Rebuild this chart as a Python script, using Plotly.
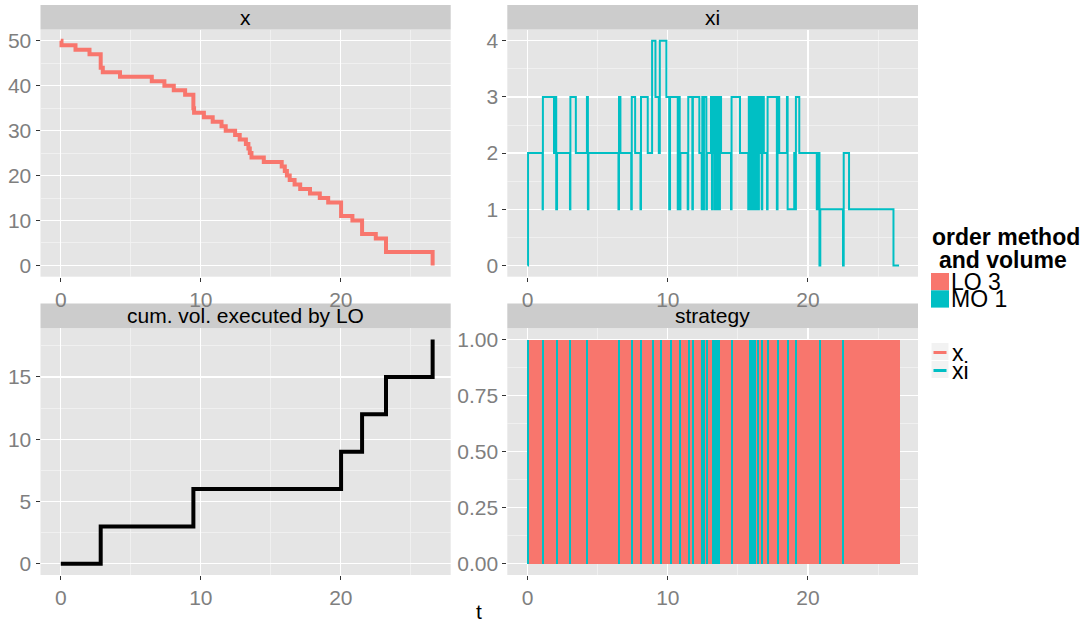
import plotly.graph_objects as go

# ---------------- data ----------------
# remaining inventory x (step function, hv)
x_t = [0.00, 0.05, 1.05, 2.05, 2.85, 3.00, 4.23, 6.50, 7.40, 8.07,
       8.88, 9.47, 9.52, 10.22, 10.85, 11.48, 11.78, 12.45, 12.78, 13.22,
       13.40, 13.50, 13.62, 14.50, 15.78, 16.00, 16.15, 16.35, 16.70, 17.10,
       17.80, 18.50, 19.10, 20.02, 20.83, 21.52, 22.50, 23.23, 26.56]
x_v = [50, 49, 48, 47, 44, 43, 42, 41, 40, 39,
       38, 35, 34, 33, 32, 31, 30, 29, 28, 27,
       26, 25, 24, 23, 22, 21, 20, 19, 18, 17,
       16, 15, 14, 11, 10, 7, 6, 3, 0]

# xi (step function, hv)
xi_t = [0.00, 0.03, 1.07, 1.09, 1.88, 1.96, 2.04, 2.10, 3.02, 3.05,
        3.44, 4.23, 4.30, 4.34, 6.48, 6.52, 6.62, 7.39, 7.43, 7.67,
        8.05, 8.09, 8.57, 8.88, 9.12, 9.36, 9.43, 9.90, 10.10, 10.16,
        10.71, 10.75, 10.85, 10.90, 11.42, 11.46, 11.75, 11.79, 12.25, 12.42,
        12.46, 12.55, 12.58, 12.75, 12.79, 13.08, 13.15, 13.20, 13.30, 13.35,
        13.40, 13.45, 13.50, 13.55, 13.60, 13.65, 13.72, 13.80, 14.51, 14.55,
        15.15, 15.74, 15.78, 15.85, 15.90, 16.00, 16.04, 16.12, 16.16, 16.28,
        16.32, 16.38, 16.45, 16.50, 16.62, 16.70, 16.74, 16.85, 17.08, 17.12,
        17.78, 17.83, 17.95, 18.50, 18.55, 19.02, 19.10, 19.14, 19.38, 20.63,
        20.70, 20.82, 20.88, 22.50, 22.55, 22.93, 26.10, 26.50]
xi_v = [0, 2, 1, 3, 2, 3, 1, 2, 1, 3,
        2, 3, 1, 2, 1, 3, 2, 1, 3, 2,
        1, 3, 2, 4, 3, 2, 4, 3, 1, 3,
        1, 3, 1, 2, 1, 3, 1, 3, 2, 1,
        3, 1, 3, 1, 2, 3, 1, 3, 2, 1,
        3, 1, 3, 1, 3, 1, 3, 2, 1, 3,
        2, 1, 3, 1, 3, 1, 3, 1, 3, 1,
        2, 3, 1, 3, 2, 1, 3, 2, 1, 3,
        1, 3, 2, 3, 1, 2, 1, 3, 2, 1,
        2, 0, 1, 0, 2, 1, 0, 0]

# cumulative volume executed by limit orders
lo_t = [0.00, 2.85, 9.47, 20.02, 21.52, 23.23, 26.56]
lo_cum = [0, 3, 6, 9, 12, 15, 18]

# strategy: LO 3 over whole horizon, MO 1 at these times
strat_start = 0.0
strat_end = 26.56
mo_times = [0.03, 1.09, 2.09, 3.04, 4.23, 6.51, 7.46, 8.08, 8.93, 9.52,
            10.23, 10.87, 11.50, 11.78, 12.45, 12.56, 12.79, 13.21, 13.40, 13.50,
            13.60, 13.68, 14.56, 15.84, 16.02, 16.12, 16.22, 16.41, 16.70, 17.12,
            17.83, 18.55, 19.14, 20.83, 22.50]
strat_level = 1.0

panel_titles = ["x", "xi", "cum. vol. executed by LO", "strategy"]
legend_fill_labels = ["LO 3", "MO 1"]
legend_line_labels = ["x", "xi"]

# ---------------- style ----------------
RED = "#F8766D"
CYAN = "#00BFC4"
FONT = "Liberation Sans, Arial, sans-serif"
W, H = 1089, 624


def fx(p):
    return p / W


def fy(p):
    return 1 - p / H


# panel pixel boxes: (x0, x1, y_top, y_bottom, strip_top)
panels = [
    (40.5, 450.7, 29.5, 276.7, 5.0),
    (507.3, 918.0, 29.5, 276.7, 5.0),
    (40.5, 450.7, 328.3, 575.0, 303.5),
    (507.3, 918.0, 328.3, 575.0, 303.5),
]

fig = go.Figure()

fig.add_trace(go.Scatter(x=x_t, y=x_v, mode="lines",
                         line=dict(color=RED, width=4, shape="hv"),
                         xaxis="x", yaxis="y", showlegend=False, hoverinfo="skip"))
fig.add_trace(go.Scatter(x=xi_t, y=xi_v, mode="lines",
                         line=dict(color=CYAN, width=2, shape="hv"),
                         xaxis="x2", yaxis="y2", showlegend=False, hoverinfo="skip"))
fig.add_trace(go.Scatter(x=lo_t, y=lo_cum, mode="lines",
                         line=dict(color="black", width=4, shape="hv"),
                         xaxis="x3", yaxis="y3", showlegend=False, hoverinfo="skip"))
fig.add_trace(go.Bar(x=[(strat_start + strat_end) / 2], y=[strat_level],
                     width=[strat_end - strat_start], base=0,
                     marker=dict(color=RED, line=dict(width=0)),
                     xaxis="x4", yaxis="y4", showlegend=False, hoverinfo="skip"))
fig.add_trace(go.Bar(x=mo_times, y=[strat_level] * len(mo_times),
                     width=0.14, base=0,
                     marker=dict(color=CYAN, line=dict(width=0)),
                     xaxis="x4", yaxis="y4", showlegend=False, hoverinfo="skip"))

tickfont = dict(family=FONT, size=21, color="#7F7F7F")


def axis_common():
    return dict(showgrid=True, gridcolor="white", gridwidth=1.3,
                zeroline=False, showline=False,
                ticks="outside", ticklen=4, tickwidth=1, tickcolor="#333333",
                tickfont=tickfont, fixedrange=True)


xr = [-1.45, 27.85]
layout_axes = {}
yspecs = [
    dict(range=[-2.5, 52.5], tick0=0, dtick=10, minor_dtick=5, fmt=None),
    dict(range=[-0.2, 4.2], tick0=0, dtick=1, minor_dtick=0.5, fmt=None),
    dict(range=[-0.9, 18.9], tick0=0, dtick=5, minor_dtick=2.5, fmt=None),
    dict(range=[-0.05, 1.05], tick0=0, dtick=0.25, minor_dtick=0.125, fmt=".2f"),
]
for i, (p, ys) in enumerate(zip(panels, yspecs)):
    n = "" if i == 0 else str(i + 1)
    x0, x1, yt, yb, st = p
    xa = axis_common()
    xa.update(domain=[fx(x0), fx(x1)], range=xr, tick0=0, dtick=10,
              anchor="y" + n,
              minor=dict(dtick=5, tick0=0, showgrid=True, gridcolor="#F2F2F2",
                         gridwidth=0.8, ticks=""))
    ya = axis_common()
    ya.update(domain=[fy(yb), fy(yt)], range=ys["range"], tick0=ys["tick0"],
              dtick=ys["dtick"], anchor="x" + n,
              minor=dict(dtick=ys["minor_dtick"], tick0=0, showgrid=True,
                         gridcolor="#F2F2F2", gridwidth=0.8, ticks=""))
    if ys["fmt"]:
        ya.update(tickformat=ys["fmt"])
    layout_axes["xaxis" + n] = xa
    layout_axes["yaxis" + n] = ya

shapes = []
annotations = []
for p, title in zip(panels, panel_titles):
    x0, x1, yt, yb, st = p
    shapes.append(dict(type="rect", xref="paper", yref="paper",
                       x0=fx(x0), x1=fx(x1), y0=fy(yt), y1=fy(st),
                       fillcolor="#CCCCCC", line=dict(width=0), layer="below"))
    annotations.append(dict(text=title, xref="paper", yref="paper",
                            x=fx((x0 + x1) / 2), y=fy((st + yt) / 2),
                            xanchor="center", yanchor="middle", showarrow=False,
                            font=dict(family=FONT, size=21, color="black")))

# axis title t
annotations.append(dict(text="t", xref="paper", yref="paper", x=fx(479), y=fy(611),
                        xanchor="center", yanchor="middle", showarrow=False,
                        font=dict(family=FONT, size=21, color="black")))

# legend: fill
annotations.append(dict(text="<b>order method</b>", xref="paper", yref="paper",
                        x=fx(930), y=fy(237), xanchor="left", yanchor="middle",
                        showarrow=False, font=dict(family=FONT, size=23, color="black")))
annotations.append(dict(text="<b>and volume</b>", xref="paper", yref="paper",
                        x=fx(937), y=fy(260), xanchor="left", yanchor="middle",
                        showarrow=False, font=dict(family=FONT, size=23, color="black")))
for k, (lab, col) in enumerate(zip(legend_fill_labels, [RED, CYAN])):
    top = 273 + k * 17.3
    shapes.append(dict(type="rect", xref="paper", yref="paper",
                       x0=fx(931), x1=fx(949), y0=fy(top + 17.3), y1=fy(top),
                       fillcolor=col, line=dict(width=0)))
    annotations.append(dict(text=lab, xref="paper", yref="paper",
                            x=fx(949), y=fy(top + 9), xanchor="left", yanchor="middle",
                            showarrow=False,
                            font=dict(family=FONT, size=23, color="black")))
# legend: lines
for k, (lab, col) in enumerate(zip(legend_line_labels, [RED, CYAN])):
    top = 343 + k * 18
    shapes.append(dict(type="rect", xref="paper", yref="paper",
                       x0=fx(931.5), x1=fx(948.5), y0=fy(top + 17), y1=fy(top),
                       fillcolor="#F2F2F2", line=dict(width=0)))
    shapes.append(dict(type="line", xref="paper", yref="paper",
                       x0=fx(933.5), x1=fx(946.5), y0=fy(top + 9.5), y1=fy(top + 9.5),
                       line=dict(color=col, width=3)))
    annotations.append(dict(text=lab, xref="paper", yref="paper",
                            x=fx(950), y=fy(top + 10), xanchor="left", yanchor="middle",
                            showarrow=False,
                            font=dict(family=FONT, size=23, color="black")))

fig.update_layout(
    width=W, height=H,
    margin=dict(l=0, r=0, t=0, b=0),
    paper_bgcolor="white", plot_bgcolor="#E5E5E5",
    barmode="overlay", bargap=0,
    showlegend=False,
    font=dict(family=FONT),
    shapes=shapes, annotations=annotations,
    **layout_axes,
)

fig.write_html("out.html",
               config={"displayModeBar": False, "staticPlot": True},
               post_script="document.body.style.margin='0';document.body.style.padding='0';")
